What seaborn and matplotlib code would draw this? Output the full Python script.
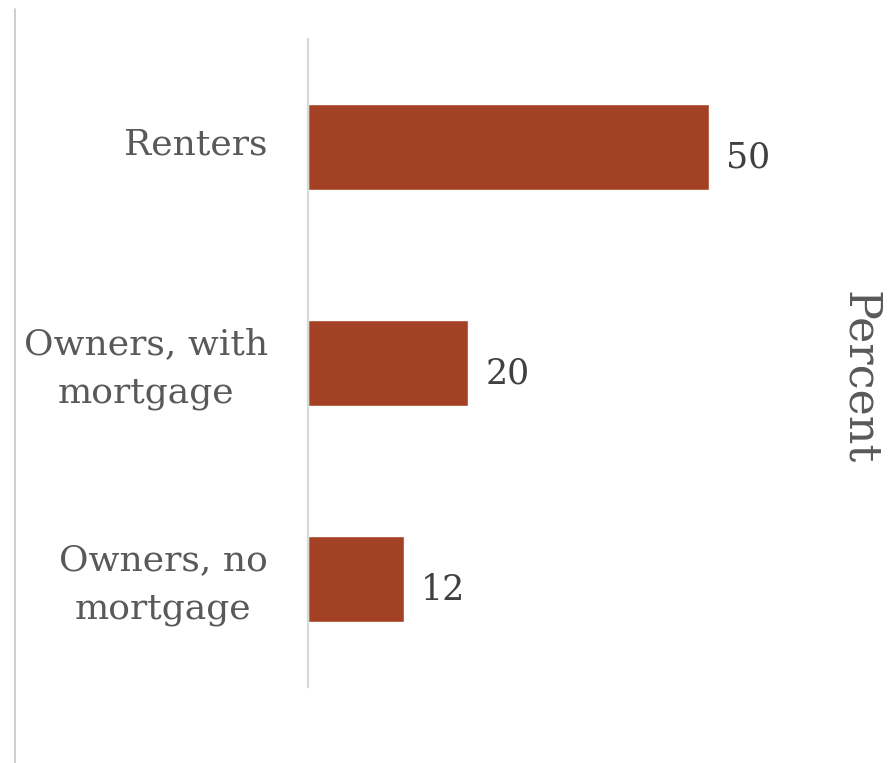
import matplotlib
matplotlib.use("Agg")
import matplotlib.pyplot as plt
import matplotlib.transforms as mtransforms
import seaborn as sns
import pandas as pd
from matplotlib.lines import Line2D

# data
categories = ["Renters", "Owners, with\nmortgage", "Owners, no\nmortgage"]
percent = [50, 20, 12]

BAR_COLOR = "#A34124"
LABEL_GRAY = "#595959"
VALUE_GRAY = "#404040"

sns.set_theme(style="white")
plt.rcParams["font.family"] = ["DejaVu Serif"]

df = pd.DataFrame({"category": categories, "percent": percent})

fig = plt.figure(figsize=(8.89, 7.63), dpi=100)
W, H = 889, 763
ax_left, ax_right, ax_top, ax_bottom = 308, 828, 39, 687
ax = fig.add_axes([ax_left / W, 1 - ax_bottom / H,
                   (ax_right - ax_left) / W, (ax_bottom - ax_top) / H])

sns.barplot(data=df, x="percent", y="category", orient="h",
            color=BAR_COLOR, width=0.4, saturation=1, ax=ax)

ax.set_xlim(0, (ax_right - ax_left) / 8.02)
ax.set_ylim(2.5, -0.5)

for i, v in enumerate(percent):
    ax.text(v + 2.1, i + 0.05, f"{v}", va="center", ha="left",
            fontsize=25, color=VALUE_GRAY)

ax.set_xlabel("")
ax.set_ylabel("")
ax.set_xticks([])
ax.tick_params(axis="y", length=0, pad=29, labelsize=26, labelcolor=LABEL_GRAY)
# nudge category labels up slightly
shift = mtransforms.ScaledTranslation(0, 6 / 100, fig.dpi_scale_trans)
for lab in ax.get_yticklabels():
    lab.set_horizontalalignment("right")
    lab.set_multialignment("center")
    lab.set_linespacing(1.55)
    lab.set_transform(lab.get_transform() + shift)

for s in ["top", "right", "bottom"]:
    ax.spines[s].set_visible(False)
ax.spines["left"].set_color("#d9d9d9")
ax.spines["left"].set_linewidth(1.6)

fig.text(860 / W, 1 - 378 / H, "Percent", rotation=270, ha="center",
         va="center", fontsize=32, color=LABEL_GRAY)

# thin frame line on the left edge
fig.add_artist(Line2D([15 / W, 15 / W], [0, 1 - 9 / H],
                      transform=fig.transFigure, color="#c6c6c6", linewidth=1.2))

fig.savefig("out.png", dpi=100, facecolor="white")
